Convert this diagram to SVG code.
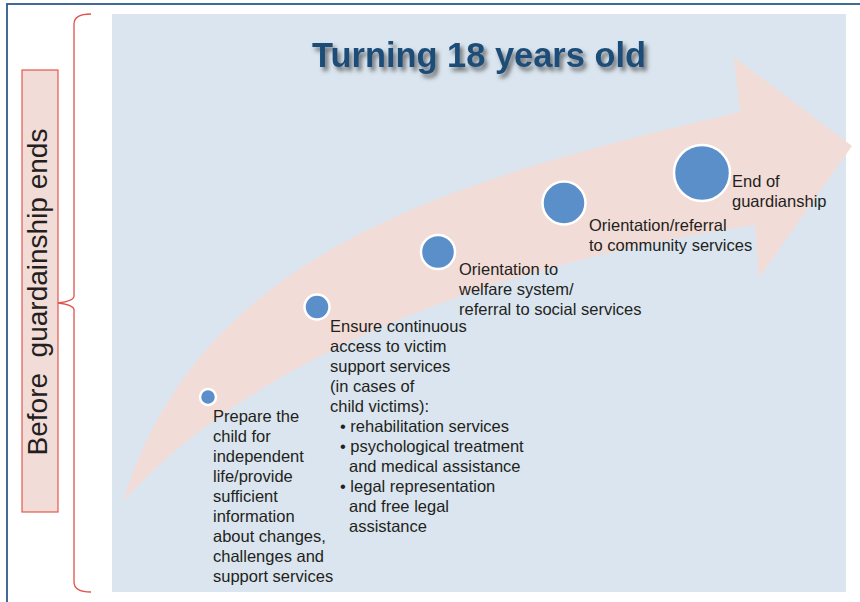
<svg xmlns="http://www.w3.org/2000/svg" width="860" height="602" viewBox="0 0 860 602">
<defs>
<style>
.t{font-family:"Liberation Sans",Arial,sans-serif;font-size:16.5px;fill:#231f20}
.dot{fill:#5b8fc9;stroke:#ffffff;stroke-width:2.5}
</style>
<filter id="sh" x="-10%" y="-50%" width="120%" height="200%">
<feGaussianBlur in="SourceAlpha" stdDeviation="2.2" result="b"/>
<feOffset in="b" dx="3" dy="4" result="o"/>
<feFlood flood-color="#4a4a4a" flood-opacity="0.75"/>
<feComposite in2="o" operator="in" result="s"/>
<feMerge><feMergeNode in="s"/><feMergeNode in="SourceGraphic"/></feMerge>
</filter>
</defs>
<rect x="0" y="0" width="860" height="602" fill="#ffffff"/>
<rect x="7" y="4" width="900" height="700" fill="none" stroke="#2e5a8c" stroke-width="1.8"/>
<g id="side-label">
<rect x="22" y="70" width="36" height="442" fill="#f2dcd8" stroke="#e5574f" stroke-width="1.2"/>
<text transform="translate(47,292) rotate(-90)" text-anchor="middle" style="font-family:'Liberation Sans',Arial,sans-serif;font-size:28px;fill:#231f20;white-space:pre" xml:space="preserve">Before  guardainship ends</text>
</g>
<g id="bracket">
<path d="M91,14 Q74,14 74,24 L74,296 Q74,301 58,303 Q74,305 74,310 L74,582 Q74,592 91,592" fill="none" stroke="#e0524a" stroke-width="1.3"/>
</g>
<rect id="panel" x="112" y="14" width="734" height="578" fill="#dae5ef"/>
<g id="connectors">
<path d="M123,502 C200,250 450,180 740,112 L734,57 L852,146 L759,278 L755,225 C450,270 230,380 123,502 Z" fill="#f2dcd8"/>
</g>
<g id="title">
<text x="479" y="67" text-anchor="middle" textLength="334" lengthAdjust="spacingAndGlyphs" filter="url(#sh)" style="font-family:'Liberation Sans',Arial,sans-serif;font-size:35px;font-weight:bold;fill:#1f4e79">Turning 18 years old</text>
</g>
<g id="step1">
<circle class="dot" cx="208" cy="397" r="8"/>
<text class="t" x="213" y="422">Prepare the</text>
<text class="t" x="213" y="442">child for</text>
<text class="t" x="213" y="462">independent</text>
<text class="t" x="213" y="482">life/provide</text>
<text class="t" x="213" y="502">sufficient</text>
<text class="t" x="213" y="522">information</text>
<text class="t" x="213" y="542">about changes,</text>
<text class="t" x="213" y="562">challenges and</text>
<text class="t" x="213" y="582">support services</text>
</g>
<g id="step2">
<circle class="dot" cx="317" cy="307" r="12.5"/>
<text class="t" x="330" y="332">Ensure continuous</text>
<text class="t" x="330" y="352">access to victim</text>
<text class="t" x="330" y="372">support services</text>
<text class="t" x="330" y="392">(in cases of</text>
<text class="t" x="330" y="412">child victims):</text>
<text class="t" x="340" y="432">• rehabilitation services</text>
<text class="t" x="340" y="452">• psychological treatment</text>
<text class="t" x="349" y="472">and medical assistance</text>
<text class="t" x="340" y="492">• legal representation</text>
<text class="t" x="349" y="512">and free legal</text>
<text class="t" x="349" y="532">assistance</text>
</g>
<g id="step3">
<circle class="dot" cx="438" cy="252" r="17"/>
<text class="t" x="459" y="275">Orientation to</text>
<text class="t" x="459" y="295">welfare system/</text>
<text class="t" x="459" y="315">referral to social services</text>
</g>
<g id="step4">
<circle class="dot" cx="564" cy="203" r="21.5"/>
<text class="t" x="589" y="231">Orientation/referral</text>
<text class="t" x="589" y="251">to community services</text>
</g>
<g id="step5">
<circle class="dot" cx="702" cy="173" r="28"/>
<text class="t" x="732" y="187">End of</text>
<text class="t" x="732" y="207">guardianship</text>
</g>
</svg>
